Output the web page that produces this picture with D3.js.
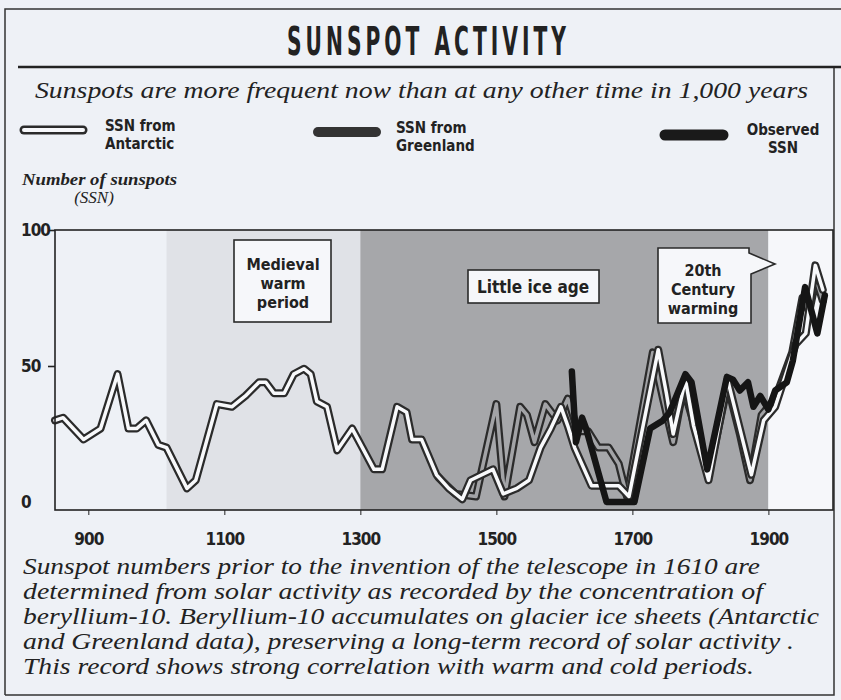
<!DOCTYPE html>
<html>
<head>
<meta charset="utf-8">
<script src="https://cdn.jsdelivr.net/npm/d3@7"></script>
<style>
  body { margin: 0; background: #eef1f6; }
  svg { display: block; }
</style>
</head>
<body>
<svg id="chart" width="841" height="700"></svg>
<script>
// data
var antarcticYears = [851, 863, 893, 918, 943, 959, 971, 985, 1003, 1015, 1045, 1058, 1089, 1111, 1131, 1151, 1161, 1173, 1188, 1202, 1217, 1227, 1236, 1251, 1266, 1288, 1303, 1320, 1332, 1354, 1368, 1376, 1390, 1412, 1430, 1450, 1462, 1495, 1510, 1530, 1548, 1565, 1580, 1595, 1605, 1615, 1640, 1680, 1695, 1738, 1750, 1760, 1778, 1790, 1812, 1840, 1855, 1875, 1893, 1910, 1940, 1955, 1969, 1980];
var antarcticSSN   = [30, 31, 23, 27, 47, 27, 27, 30, 21, 20, 5, 8, 36, 35, 39, 44, 44, 40, 40, 47, 49, 47, 37, 35, 19, 27, 20, 12, 12, 35, 33, 23, 23, 10, 5, 1, 8, 12, 3, 5, 8, 20, 27, 35, 28, 20, 6, 6, 2, 56, 40, 25, 45, 28, 8, 45, 30, 10, 30, 35, 58, 62, 87, 78];

var greenlandYears = [1415, 1440, 1470, 1500, 1512, 1535, 1545, 1556, 1572, 1590, 1605, 1620, 1635, 1650, 1665, 1680, 1692, 1730, 1745, 1760, 1775, 1795, 1812, 1840, 1858, 1873, 1890, 1910, 1935, 1950, 1960, 1970, 1980];
var greenlandSSN   = [9, 3, 2, 36, 2, 35, 32, 22, 36, 30, 38, 26, 26, 20, 20, 14, 2, 55, 38, 22, 42, 25, 10, 43, 25, 8, 32, 38, 55, 75, 70, 82, 74];

var observedYears = [1611, 1617, 1626, 1632, 1662, 1703, 1726, 1745, 1755, 1778, 1787, 1810, 1839, 1848, 1858, 1870, 1878, 1888, 1900, 1910, 1927, 1936, 1954, 1972, 1983];
var observedSSN   = [48, 22, 31, 27, 0, 0, 27, 30, 33, 47, 44, 12, 46, 45, 41, 44, 35, 39, 34, 41, 44, 52, 79, 62, 76];

var warmPeriod = [1015, 1300];
var iceAge = [1300, 1900];
var yearTicks = [900, 1100, 1300, 1500, 1700, 1900];
var ssnTicks = [0, 50, 100];

var captionLines = [
  "Sunspot numbers prior to the invention of the telescope in 1610 are",
  "determined from solar activity as recorded by the concentration of",
  "beryllium-10. Beryllium-10 accumulates on glacier ice sheets (Antarctic",
  "and Greenland data), preserving a long-term record of solar activity .",
  "This record shows strong correlation with warm and cold periods."
];
var captionWidths = [737, 740, 796, 771, 731];

var svg = d3.select("#chart");
var condensed = "'DejaVu Sans Condensed', 'DejaVu Sans', sans-serif";
var serif = "'Liberation Serif', 'DejaVu Serif', serif";
var ink = "#222";

var x = d3.scaleLinear().domain([851, 1995]).range([55, 833]);
var y = d3.scaleLinear().domain([0, 100]).range([502, 230]);

function pairs(years, vals) {
  return years.map(function (d, i) { return [d, vals[i]]; });
}

// card border
svg.append("path")
  .attr("d", "M5,695 V9 H841 M834,68 V695 H5")
  .attr("fill", "none").attr("stroke", "#333").attr("stroke-width", 1.5);

// title
svg.append("text")
  .attr("x", 287).attr("y", 55)
  .attr("textLength", 283).attr("lengthAdjust", "spacingAndGlyphs")
  .style("font-family", condensed).style("font-weight", "bold")
  .style("font-size", "39px").style("letter-spacing", "7px").style("fill", ink)
  .text("SUNSPOT ACTIVITY");

svg.append("line")
  .attr("x1", 18).attr("x2", 841).attr("y1", 67).attr("y2", 67)
  .attr("stroke", ink).attr("stroke-width", 2.5);

svg.append("text")
  .attr("x", 35).attr("y", 98)
  .attr("textLength", 773).attr("lengthAdjust", "spacingAndGlyphs")
  .style("font-family", serif).style("font-style", "italic")
  .style("font-size", "23px").style("fill", ink)
  .text("Sunspots are more frequent now than at any other time in 1,000 years");

// legend
var legend = svg.append("g");
legend.append("line").attr("x1", 24).attr("x2", 83).attr("y1", 130).attr("y2", 130)
  .attr("stroke", "#2b2b2b").attr("stroke-width", 9).attr("stroke-linecap", "round");
legend.append("line").attr("x1", 24).attr("x2", 83).attr("y1", 130).attr("y2", 130)
  .attr("stroke", "#f7f8fb").attr("stroke-width", 4).attr("stroke-linecap", "round");
legend.append("line").attr("x1", 318).attr("x2", 376).attr("y1", 132).attr("y2", 132)
  .attr("stroke", "#333").attr("stroke-width", 10).attr("stroke-linecap", "round");
legend.append("line").attr("x1", 665).attr("x2", 723).attr("y1", 135).attr("y2", 135)
  .attr("stroke", "#1a1a1a").attr("stroke-width", 11).attr("stroke-linecap", "round");

function legendText(lines, lx, ly, anchor) {
  lines.forEach(function (s, i) {
    legend.append("text")
      .attr("x", lx).attr("y", ly + i * 18)
      .attr("text-anchor", anchor)
      .style("font-family", condensed).style("font-weight", "bold")
      .style("font-size", "15px").style("fill", ink)
      .text(s);
  });
}
legendText(["SSN from", "Antarctic"], 105, 131, "start");
legendText(["SSN from", "Greenland"], 396, 133, "start");
legendText(["Observed", "SSN"], 783, 135, "middle");

// y title
svg.append("text")
  .attr("x", 22).attr("y", 185)
  .attr("textLength", 155).attr("lengthAdjust", "spacingAndGlyphs")
  .style("font-family", serif).style("font-style", "italic").style("font-weight", "bold")
  .style("font-size", "16px").style("fill", ink)
  .text("Number of sunspots");
svg.append("text")
  .attr("x", 94).attr("y", 203).attr("text-anchor", "middle")
  .style("font-family", serif).style("font-style", "italic")
  .style("font-size", "17px").style("fill", ink)
  .text("(SSN)");

// period shading
var plotTop = 230, plotBottom = 510, plotRight = 833;
svg.append("rect")
  .attr("x", x(warmPeriod[0])).attr("y", plotTop)
  .attr("width", x(warmPeriod[1]) - x(warmPeriod[0])).attr("height", plotBottom - plotTop)
  .attr("fill", "#e0e2e7");
svg.append("rect")
  .attr("x", x(iceAge[0])).attr("y", plotTop)
  .attr("width", x(iceAge[1]) - x(iceAge[0])).attr("height", plotBottom - plotTop)
  .attr("fill", "#a6a7aa");
svg.append("rect")
  .attr("x", x(iceAge[1])).attr("y", plotTop)
  .attr("width", plotRight - x(iceAge[1])).attr("height", plotBottom - plotTop)
  .attr("fill", "#f6f7fa");

// period labels
var boxStyle = function (sel) {
  sel.attr("fill", "#f6f7fa").attr("stroke", "#2a2a2a").attr("stroke-width", 1.6);
};
svg.append("rect").attr("x", 234).attr("y", 240).attr("width", 97).attr("height", 82).call(boxStyle);
svg.append("rect").attr("x", 468).attr("y", 270).attr("width", 131).attr("height", 33).call(boxStyle);
svg.append("path").attr("d", "M658,248 H749 V253 L775,264 L751,274 V323 H658 Z").call(boxStyle);

function boxText(lines, cx, cy, size) {
  var t = svg.append("text").attr("text-anchor", "middle")
    .style("font-family", condensed).style("font-weight", "bold")
    .style("font-size", size + "px").style("fill", ink);
  lines.forEach(function (s, i) {
    t.append("tspan").attr("x", cx).attr("y", cy + i * 19).text(s);
  });
}
boxText(["Medieval", "warm", "period"], 283, 270, 16);
boxText(["Little ice age"], 533, 293, 17);
boxText(["20th", "Century", "warming"], 703, 276, 16);

// series
var line = d3.line().x(function (d) { return x(d[0]); }).y(function (d) { return y(d[1]); });
var greenland = pairs(greenlandYears, greenlandSSN);
var antarctic = pairs(antarcticYears, antarcticSSN);
var observed = pairs(observedYears, observedSSN);

function drawLine(data, color, width) {
  svg.append("path").datum(data).attr("d", line)
    .attr("fill", "none").attr("stroke", color).attr("stroke-width", width)
    .attr("stroke-linejoin", "round").attr("stroke-linecap", "round");
}
drawLine(greenland, "#2b2b2b", 8);
drawLine(greenland, "#a2a3a6", 3.5);
drawLine(antarctic, "#2b2b2b", 8);
drawLine(antarctic, "#f8f9fb", 3.5);
drawLine(observed, "#151515", 6.5);

// frame
svg.append("rect")
  .attr("x", 55).attr("y", plotTop).attr("width", plotRight - 55).attr("height", plotBottom - plotTop)
  .attr("fill", "none").attr("stroke", ink).attr("stroke-width", 1.6);

// axes
var yAxis = svg.append("g")
  .attr("transform", "translate(55,0)")
  .call(d3.axisLeft(y).tickValues(ssnTicks).tickSize(7).tickFormat(d3.format("d")));
yAxis.select(".domain").remove();
yAxis.selectAll(".tick line").attr("stroke", ink).attr("stroke-width", 1.6)
  .filter(function (d) { return d === 0; }).remove();
yAxis.selectAll(".tick text")
  .attr("x", -34).attr("text-anchor", "start")
  .style("font-family", condensed).style("font-weight", "bold")
  .style("font-size", "17px").style("letter-spacing", "-1px").style("fill", ink);

var xAxis = svg.append("g")
  .attr("transform", "translate(0," + plotBottom + ")")
  .call(d3.axisBottom(x).tickValues(yearTicks).tickSize(5).tickPadding(18).tickFormat(d3.format("d")));
xAxis.select(".domain").remove();
xAxis.selectAll(".tick line").attr("stroke", ink);
xAxis.selectAll(".tick text")
  .style("font-family", condensed).style("font-weight", "bold")
  .style("font-size", "17px").style("letter-spacing", "-1px").style("fill", ink);

// caption
svg.append("g").selectAll("text")
  .data(captionLines)
  .enter()
  .append("text")
  .attr("x", 23)
  .attr("y", function (d, i) { return 574 + i * 25; })
  .attr("textLength", function (d, i) { return captionWidths[i]; })
  .attr("lengthAdjust", "spacingAndGlyphs")
  .style("font-family", serif).style("font-style", "italic")
  .style("font-size", "23px").style("fill", ink)
  .text(function (d) { return d; });
</script>
</body>
</html>
